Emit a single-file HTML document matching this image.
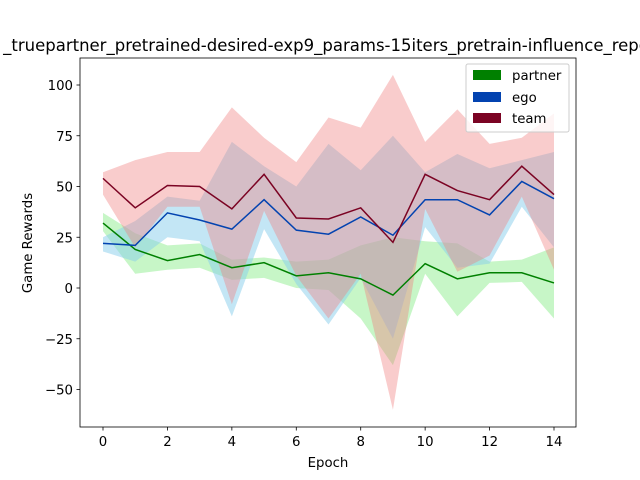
<!DOCTYPE html>
<html><head><meta charset="utf-8"><style>
body{margin:0;background:#fff}
svg{display:block;font-family:"DejaVu Sans","Liberation Sans",sans-serif}
</style></head><body>
<svg id="chart" width="640" height="480">
<rect width="640" height="480" fill="#fff"/>
<text x="326" y="51" font-size="16.5" text-anchor="middle">_truepartner_pretrained-desired-exp9_params-15iters_pretrain-influence_repo</text>
<g id="bands"></g><g id="lines"></g><g id="axes"></g>
<text x="328" y="467" font-size="13.3" text-anchor="middle">Epoch</text>
<text transform="translate(32,243) rotate(-90)" font-size="13.3" text-anchor="middle">Game Rewards</text>
<g>
<rect x="466" y="64" width="103" height="68" fill="#fff" fill-opacity="0.8" stroke="#ccc" rx="2"/>
<rect x="473" y="70" width="28" height="10" fill="#008000"/>
<text x="512" y="80" font-size="13.3">partner</text>
<rect x="473" y="92" width="28" height="10" fill="#0343b0"/>
<text x="512" y="102" font-size="13.3">ego</text>
<rect x="473" y="113" width="28" height="10" fill="#7b0323"/>
<text x="512" y="123" font-size="13.3">team</text>
</g>
</svg>
<script>
const epochs=[0,1,2,3,4,5,6,7,8,9,10,11,12,13,14];
const partnerMean=[32,19,13.5,16.5,10,12.5,6,7.5,4.5,-3.5,12,4.5,7.5,7.5,2.5];
const partnerLow=[28,7,9,10,4,5,0,-1,-15,-38,7,-14,2.5,3,-15];
const partnerHigh=[37,27,21,22,14,15,13,14,21,25,23,22,13,14,20];
const egoMean=[22,21,37,33.5,29,43.5,28.5,26.5,35,26,43.5,43.5,36,52.5,44];
const egoLow=[18,13,25,23,-14,29,2,-18,5,-25,30,10,12,40,20];
const egoHigh=[25,33,45,43,72,60,50,71,58,75,57,66,59,63,67];
const teamMean=[54,39.5,50.5,50,39,56,34.5,34,39.5,22.5,56,48,43.5,60,46];
const teamLow=[46,20,40,40,-8,38,6,-15,7,-60,39,8,16,45,9];
const teamHigh=[57,63,67,67,89,74,62,84,79,105,72,88,71,74,86];
const xTicks=[0,2,4,6,8,10,12,14];
const yTicks=[-50,-25,0,25,50,75,100];
const L=80,R=576,T=58,B=427;
const X=v=>103+(v)*(554-103)/14;
const Y=v=>288-v*2.03;
const NS="http://www.w3.org/2000/svg";
function mk(tag,parent){const e=document.createElementNS(NS,tag);document.getElementById(parent).appendChild(e);return e;}
const series=[
 {n:"partner",m:partnerMean,lo:partnerLow,hi:partnerHigh,c:"#008000",f:"#90ee90",a:0.5},
 {n:"ego",m:egoMean,lo:egoLow,hi:egoHigh,c:"#0343b0",f:"#87ceeb",a:0.5},
 {n:"team",m:teamMean,lo:teamLow,hi:teamHigh,c:"#7b0323",f:"#f08080",a:0.4}];
series.forEach(s=>{
 const p=mk("polygon","bands");
 const pts=epochs.map((e,i)=>X(e)+","+Y(s.hi[i])).concat(epochs.slice().reverse().map((e,k)=>{const i=epochs.length-1-k;return X(e)+","+Y(s.lo[i]);}));
 p.setAttribute("points",pts.join(" "));p.setAttribute("fill",s.f);p.setAttribute("fill-opacity",s.a);
 
 
});
series.forEach(s=>{
 const l=mk("polyline","lines");
 l.setAttribute("points",epochs.map((e,i)=>X(e)+","+Y(s.m[i])).join(" "));
 l.setAttribute("fill","none");l.setAttribute("stroke",s.c);l.setAttribute("stroke-width","1.5");
 
 
});
const fr=mk("rect","axes");fr.setAttribute("x",L);fr.setAttribute("y",T);fr.setAttribute("width",R-L);fr.setAttribute("height",B-T);fr.setAttribute("fill","none");fr.setAttribute("stroke","#000");fr.setAttribute("stroke-width","0.8");


xTicks.forEach(t=>{
 const ln=mk("line","axes");ln.setAttribute("x1",X(t));ln.setAttribute("x2",X(t));ln.setAttribute("y1",B);ln.setAttribute("y2",B+3.5);ln.setAttribute("stroke","#000");ln.setAttribute("stroke-width","0.8");
 
 
 const tx=mk("text","axes");tx.setAttribute("x",X(t));tx.setAttribute("y",B+19);tx.setAttribute("font-size","13.3");tx.setAttribute("text-anchor","middle");tx.textContent=t;
 
 
});
yTicks.forEach(t=>{
 const ln=mk("line","axes");ln.setAttribute("x1",L-3.5);ln.setAttribute("x2",L);ln.setAttribute("y1",Y(t));ln.setAttribute("y2",Y(t));ln.setAttribute("stroke","#000");ln.setAttribute("stroke-width","0.8");
 
 
 const tx=mk("text","axes");tx.setAttribute("x",L-7);tx.setAttribute("y",Y(t)+5);tx.setAttribute("font-size","13.3");tx.setAttribute("text-anchor","end");tx.textContent=t<0?"\u2212"+(-t):t;
 
 
});
</script>
</body></html>
